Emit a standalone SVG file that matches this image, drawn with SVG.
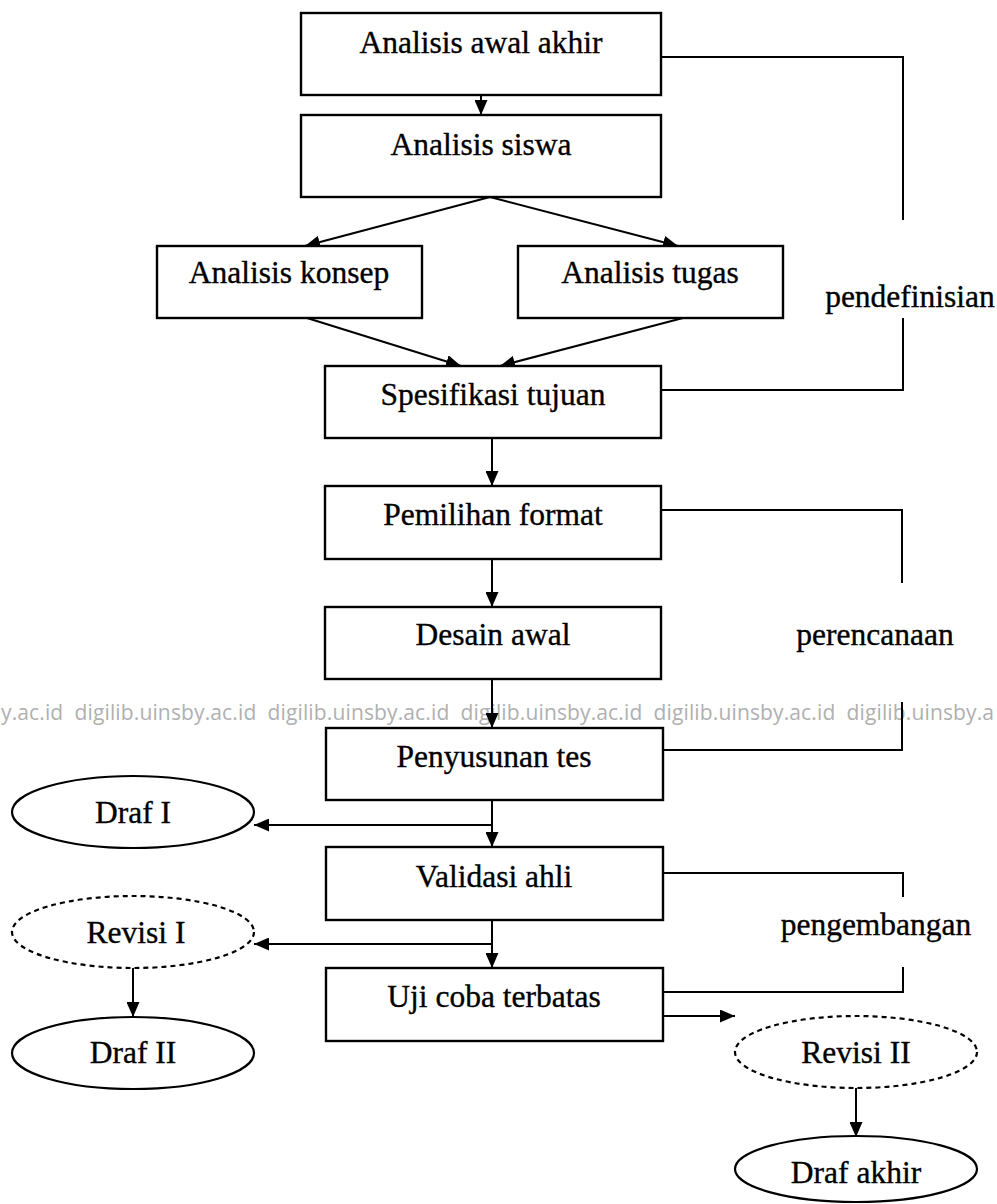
<svg xmlns="http://www.w3.org/2000/svg" width="997" height="1204" viewBox="0 0 997 1204">
<style>
.box{fill:#fff;stroke:#000;stroke-width:2.4}
.ell{fill:#fff;stroke:#000;stroke-width:2.2}
.dash{stroke-dasharray:5 4}
.t{font-family:"Liberation Serif","Times New Roman",serif;font-size:31.5px;fill:#000;stroke:#000;stroke-width:0.35;text-anchor:middle}
.c{fill:none;stroke:#000;stroke-width:2}
.wm{font-family:"Open Sans","Liberation Sans",sans-serif;font-size:21px;fill:#b0b0b0}
</style>
<defs>
<marker id="ah" viewBox="0 0 15 13" refX="15" refY="6.5" markerWidth="15" markerHeight="13" markerUnits="userSpaceOnUse" orient="auto">
<path d="M0,0 L15,6.5 L0,13 z" fill="#000"/>
</marker>
</defs>
<rect width="997" height="1204" fill="#fff"/>
<text class="wm" x="1" y="720" textLength="993" lengthAdjust="spacing" xml:space="preserve">y.ac.id  digilib.uinsby.ac.id  digilib.uinsby.ac.id  digilib.uinsby.ac.id  digilib.uinsby.ac.id  digilib.uinsby.a</text>
<g id="connectors">
<line class="c" x1="481" y1="95" x2="481" y2="115" marker-end="url(#ah)"/>
<line class="c" x1="490" y1="197" x2="305" y2="246" marker-end="url(#ah)"/>
<line class="c" x1="490" y1="197" x2="678" y2="246" marker-end="url(#ah)"/>
<line class="c" x1="307" y1="318" x2="461" y2="366" marker-end="url(#ah)"/>
<line class="c" x1="683" y1="318" x2="500" y2="366" marker-end="url(#ah)"/>
<line class="c" x1="492" y1="438" x2="492" y2="486" marker-end="url(#ah)"/>
<line class="c" x1="492" y1="559" x2="492" y2="607" marker-end="url(#ah)"/>
<line class="c" x1="492" y1="679" x2="492" y2="728" marker-end="url(#ah)"/>
<line class="c" x1="492" y1="800" x2="492" y2="847" marker-end="url(#ah)"/>
<line class="c" x1="492" y1="825" x2="254" y2="825" marker-end="url(#ah)"/>
<line class="c" x1="492" y1="920" x2="492" y2="968" marker-end="url(#ah)"/>
<line class="c" x1="492" y1="944" x2="254" y2="944" marker-end="url(#ah)"/>
<line class="c" x1="663" y1="1016" x2="735" y2="1016" marker-end="url(#ah)"/>
<line class="c" x1="133" y1="968" x2="133" y2="1017" marker-end="url(#ah)"/>
<line class="c" x1="856" y1="1088" x2="856" y2="1137" marker-end="url(#ah)"/>
<polyline class="c" points="661,57 903,57 903,220"/>
<polyline class="c" points="903,318 903,390 661,390"/>
<polyline class="c" points="661,510 902,510 902,583"/>
<polyline class="c" points="902,702 902,750 663,750"/>
<polyline class="c" points="663,873 903,873 903,897"/>
<polyline class="c" points="903,967 903,992 663,992"/>
</g>
<g id="analisis-awal-akhir"><rect class="box" x="301" y="13" width="360" height="82"/><text class="t" x="481" y="53">Analisis awal akhir</text></g>
<g id="analisis-siswa"><rect class="box" x="301" y="115" width="360" height="82"/><text class="t" x="481" y="155">Analisis siswa</text></g>
<g id="analisis-konsep"><rect class="box" x="157" y="246" width="265" height="72"/><text class="t" x="289" y="283">Analisis konsep</text></g>
<g id="analisis-tugas"><rect class="box" x="518" y="246" width="265" height="72"/><text class="t" x="650" y="283">Analisis tugas</text></g>
<g id="spesifikasi-tujuan"><rect class="box" x="325" y="366" width="336" height="72"/><text class="t" x="493" y="405">Spesifikasi tujuan</text></g>
<g id="pemilihan-format"><rect class="box" x="325" y="486" width="336" height="73"/><text class="t" x="493" y="525">Pemilihan format</text></g>
<g id="desain-awal"><rect class="box" x="325" y="607" width="336" height="72"/><text class="t" x="493" y="645">Desain awal</text></g>
<g id="penyusunan-tes"><rect class="box" x="326" y="728" width="337" height="72"/><text class="t" x="494" y="767">Penyusunan tes</text></g>
<g id="validasi-ahli"><rect class="box" x="326" y="847" width="337" height="73"/><text class="t" x="494" y="887">Validasi ahli</text></g>
<g id="uji-coba-terbatas"><rect class="box" x="326" y="968" width="337" height="73"/><text class="t" x="494" y="1007">Uji coba terbatas</text></g>
<g id="draf-1"><ellipse class="ell" cx="133" cy="812" rx="121" ry="36"/><text class="t" x="133" y="823">Draf I</text></g>
<g id="revisi-1"><ellipse class="ell dash" cx="133" cy="932" rx="121" ry="36"/><text class="t" x="136" y="943">Revisi I</text></g>
<g id="draf-2"><ellipse class="ell" cx="133" cy="1053" rx="121" ry="36"/><text class="t" x="133" y="1063">Draf II</text></g>
<g id="revisi-2"><ellipse class="ell dash" cx="856" cy="1052" rx="121" ry="36"/><text class="t" x="856" y="1063">Revisi II</text></g>
<g id="draf-akhir"><ellipse class="ell" cx="856" cy="1169" rx="121" ry="33"/><text class="t" x="856" y="1183">Draf akhir</text></g>
<g id="label-pendefinisian"><text class="t" x="910" y="307">pendefinisian</text></g>
<g id="label-perencanaan"><text class="t" x="875" y="645">perencanaan</text></g>
<g id="label-pengembangan"><text class="t" x="876" y="935">pengembangan</text></g>
</svg>
